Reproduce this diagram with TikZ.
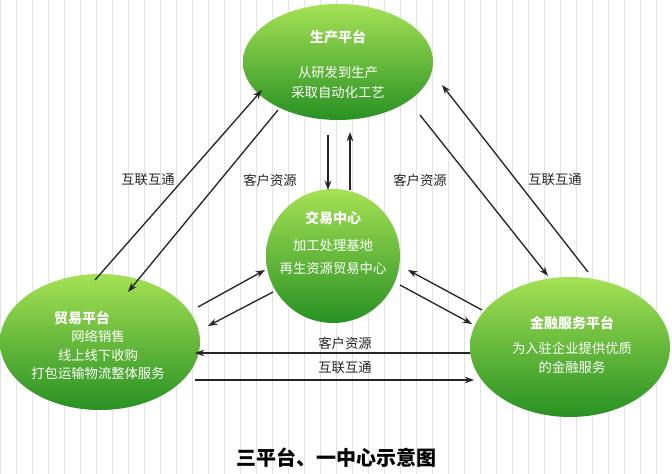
\documentclass[tikz,border=0pt]{standalone}
\usepackage{fontspec}
\newfontfamily\cjk{Noto Sans CJK SC}
\usetikzlibrary{arrows.meta}
\definecolor{gdark}{RGB}{40,145,35}
\definecolor{glight}{RGB}{165,225,85}
\tikzset{
 blob/.style={draw=none,top color=glight,bottom color=gdark,middle color=glight!50!gdark},
 wt/.style={text=white,font=\cjk\fontsize{10}{12}\selectfont,align=center},
 wtb/.style={text=white,font=\cjk\bfseries\fontsize{10.5}{12}\selectfont},
 lbl/.style={font=\cjk\fontsize{10}{12}\selectfont,text=black!85},
 arr/.style={-{Stealth[length=7pt,width=5pt]},line width=1pt,black!85}
}
\begin{document}
\begin{tikzpicture}[x=0.75pt,y=-0.75pt]
\useasboundingbox (0,0) rectangle (672,474);
\fill[white] (0,0) rectangle (672,474);
\draw[black!11,step=16] (0,0) grid (672,474);
\shade[blob] (338,62) ellipse [x radius=95,y radius=58];
\shade[blob] (333,256) circle [radius=67];
\shade[blob] (100,342) ellipse [x radius=100,y radius=68];
\shade[blob] (570,347) ellipse [x radius=100,y radius=70];
\node[wtb] (tt) at (338,37) {生产平台};
\node[wt] (t1) at (338,72) {从研发到生产};
\node[wt] (t2) at (338,92) {采取自动化工艺};
\node[wtb] (ct) at (333,218) {交易中心};
\node[wt] (c1) at (333,245) {加工处理基地};
\node[wt] (c2) at (333,268) {再生资源贸易中心};
\node[wtb] (lt) at (82,318) {贸易平台};
\node[wt] (l1) at (98,336) {网络销售};
\node[wt] (l2) at (98,355) {线上线下收购};
\node[wt] (l3) at (98,373) {打包运输物流整体服务};
\node[wtb] (rt) at (572,323) {金融服务平台};
\node[wt] (r1) at (572,348) {为入驻企业提供优质};
\node[wt] (r2) at (572,367) {的金融服务};
\node[lbl] (a1) at (148,180) {互联互通};
\node[lbl] (a2) at (270,180) {客户资源};
\node[lbl] (a3) at (420,180) {客户资源};
\node[lbl] (a4) at (555,180) {互联互通};
\node[lbl] (a5) at (345,343) {客户资源};
\node[lbl] (a6) at (345,368) {互联互通};
\node[font=\cjk\bfseries\fontsize{15}{18}\selectfont] (title) at (336,458) {三平台、一中心示意图};
\coordinate (p1) at (95,280); \coordinate (p2) at (262,90);
\coordinate (p3) at (278,110); \coordinate (p4) at (128,292);
\draw[arr] (p1) -- (p2); \draw[arr] (p3) -- (p4);
\coordinate (q1) at (328,135); \coordinate (q2) at (328,190);
\coordinate (q3) at (350,190); \coordinate (q4) at (350,132);
\draw[arr] (q1) -- (q2); \draw[arr] (q3) -- (q4);
\coordinate (s1) at (420,115); \coordinate (s2) at (548,276);
\coordinate (s3) at (588,272); \coordinate (s4) at (442,85);
\draw[arr] (s1) -- (s2); \draw[arr] (s3) -- (s4);
\coordinate (u1) at (198,307); \coordinate (u2) at (265,270);
\coordinate (u3) at (273,292); \coordinate (u4) at (208,326);
\draw[arr] (u1) -- (u2); \draw[arr] (u3) -- (u4);
\coordinate (v1) at (482,310); \coordinate (v2) at (408,270);
\coordinate (v3) at (400,285); \coordinate (v4) at (472,324);
\draw[arr] (v1) -- (v2); \draw[arr] (v3) -- (v4);
\coordinate (w1) at (470,353); \coordinate (w2) at (195,353);
\coordinate (w3) at (195,380); \coordinate (w4) at (474,380);
\draw[arr] (w1) -- (w2); \draw[arr] (w3) -- (w4);
\end{tikzpicture}
\end{document}
